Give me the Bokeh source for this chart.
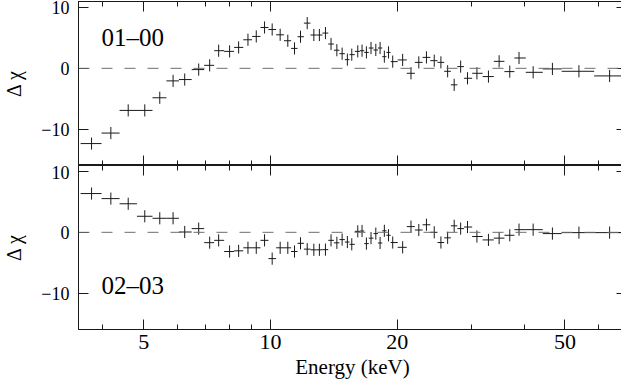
import numpy as np
from bokeh.plotting import figure
from bokeh.models import (Range1d, FixedTicker, LinearAxis, LogAxis, Span, Label,
                          CustomJSTickFormatter, CustomLabelingPolicy, ColumnDataSource)
from bokeh.layouts import column
from bokeh.embed import file_html
from bokeh.resources import INLINE

# ---------------- data ----------------
energy_kev = [3.759, 4.177, 4.593, 5.028, 5.458, 5.870, 6.255, 6.752, 7.170, 7.531,
              7.995, 8.399, 8.839, 9.249, 9.678, 10.09, 10.54, 10.99, 11.40, 11.78,
              12.22, 12.67, 13.06, 13.50, 13.92, 14.37, 14.79, 15.22, 15.59, 16.11,
              16.49, 16.89, 17.32, 17.78, 18.20, 18.63, 19.06, 19.50, 20.59, 21.55,
              22.49, 23.45, 24.47, 25.38, 26.33, 27.29, 28.27, 29.35, 30.90, 32.91,
              34.89, 36.98, 38.90, 42.02, 46.69, 53.97, 63.83]

edges_kev = [3.541, 3.970, 4.381, 4.818, 5.245, 5.659, 6.060, 6.499, 6.958, 7.347,
             7.759, 8.194, 8.616, 9.040, 9.465, 9.886, 10.31, 10.76, 11.19, 11.59,
             12.00, 12.44, 12.87, 13.28, 13.71, 14.14, 14.57, 15.01, 15.40, 15.85,
             16.30, 16.69, 17.11, 17.56, 17.99, 18.42, 18.84, 19.28, 20.04, 21.06,
             22.01, 22.96, 23.95, 24.91, 25.84, 26.80, 27.77, 28.79, 30.11, 31.88,
             33.89, 35.92, 37.93, 40.36, 44.29, 49.12, 58.66, 69.66]

dchi_01_00 = [-12.39, -10.66, -6.93, -6.93, -4.85, -2.07, -1.85, -0.21, 0.49, 2.90,
              2.79, 3.44, 4.70, 5.25, 6.72, 6.39, 5.52, 4.54, 3.28, 5.20,
              7.44, 5.48, 5.48, 5.80, 4.00, 2.98, 2.41, 1.43, 2.25, 2.79,
              2.90, 2.62, 3.34, 3.02, 3.34, 1.92, 2.62, 1.10, 1.38, -0.82,
              0.98, 1.80, 1.26, 0.98, -0.49, -2.72, 0.28, -1.64, -0.82, -1.36,
              1.15, -0.54, 1.70, -0.66, -0.10, -0.49, -1.25]

dchi_02_03 = [6.38, 5.55, 4.70, 2.64, 2.31, 2.31, 0.05, 0.61, -1.70, -1.32,
              -3.16, -3.05, -2.55, -2.55, -1.32, -4.33, -2.55, -2.55, -3.16, -1.81,
              -2.77, -2.88, -2.88, -2.85, -1.32, -1.73, -1.20, -1.60, -1.98, 0.16,
              0.21, -1.86, -0.96, -0.21, -1.76, 0.25, -0.49, -1.68, -2.47, 0.94,
              0.38, 1.24, 0.00, -1.68, -0.91, 1.07, 0.61, 0.87, -0.69, -1.25,
              -0.96, -0.49, 0.44, 0.44, -0.21, -0.05, -0.05]

sigma = 1.0  # a delta-chi residual has unit error by definition

x_major = [5, 10, 20, 50]
x_minor = [4, 6, 7, 8, 9, 30, 40, 60]
y_major = [-10, 0, 10]
panel_names = ["01\u201300", "02\u201303"]
panel_label_pos = [(3.97, 5.1), (3.97, -8.8)]

FONT = "Liberation Serif"
INK = "#1a1a1a"

xr = Range1d(3.5, 70)
num_fmt = CustomJSTickFormatter(code="return tick < 0 ? '\u2212' + Math.abs(tick) : String(tick)")


def hide_labels(ax):
    ax.major_label_policy = CustomLabelingPolicy(code="return []")
    ax.major_label_text_font_size = "0px"
    ax.major_label_standoff = 0


def style_x(ax, labels):
    ax.ticker = FixedTicker(ticks=x_major, minor_ticks=x_minor)
    ax.major_tick_in = 10
    ax.major_tick_out = 0
    ax.minor_tick_in = 5
    ax.minor_tick_out = 0
    ax.axis_line_color = INK
    ax.major_tick_line_color = INK
    ax.minor_tick_line_color = INK
    ax.formatter = num_fmt
    if labels:
        ax.major_label_text_font = FONT
        ax.major_label_text_font_size = "22px"
        ax.major_label_text_color = "black"
        ax.major_label_standoff = 5
    else:
        hide_labels(ax)


def style_y(ax, labels):
    ax.ticker = FixedTicker(ticks=y_major, minor_ticks=[])
    ax.major_tick_in = 10
    ax.major_tick_out = 0
    ax.minor_tick_line_color = None
    ax.axis_line_color = INK
    ax.major_tick_line_color = INK
    ax.formatter = num_fmt
    if labels:
        ax.major_label_text_font = FONT
        ax.major_label_text_font_size = "18px"
        ax.major_label_text_color = "black"
        ax.major_label_standoff = 9
        ax.axis_label = "\u0394 \u03c7"
        ax.axis_label_text_font = FONT
        ax.axis_label_text_font_size = "20px"
        ax.axis_label_text_font_style = "normal"
        ax.axis_label_text_color = "black"
        ax.axis_label_standoff = 13
    else:
        hide_labels(ax)


def make_panel(vals, name, pos, bottom):
    p = figure(frame_width=548, frame_height=164, x_axis_type="log", x_range=xr,
               y_range=Range1d(-16, 11), output_backend="svg", toolbar_location=None,
               min_border_left=72, min_border_right=1,
               min_border_top=0 if bottom else 1, min_border_bottom=0)
    p.grid.visible = False
    p.outline_line_color = INK
    p.background_fill_color = "white"
    p.border_fill_color = "white"

    style_x(p.below[0], bottom)
    if bottom:
        ax = p.below[0]
        ax.axis_label = "Energy (keV)"
        ax.axis_label_text_font = FONT
        ax.axis_label_text_font_size = "21px"
        ax.axis_label_text_font_style = "normal"
        ax.axis_label_text_color = "black"
        ax.axis_label_standoff = 3
    top_ax = LogAxis()
    style_x(top_ax, False)
    p.add_layout(top_ax, "above")

    style_y(p.left[0], True)
    right_ax = LinearAxis()
    style_y(right_ax, False)
    p.add_layout(right_ax, "right")

    p.add_layout(Span(location=0, dimension="width", line_color="#6e6e6e",
                      line_width=1, line_dash="11 12"))

    v = np.array(vals)
    src = ColumnDataSource(dict(e=energy_kev, lo=edges_kev[:-1], hi=edges_kev[1:],
                                v=v, vlo=v - sigma, vhi=v + sigma))
    p.segment(x0="lo", y0="v", x1="hi", y1="v", source=src, line_color=INK, line_width=1)
    p.segment(x0="e", y0="vlo", x1="e", y1="vhi", source=src, line_color=INK, line_width=1)

    p.add_layout(Label(x=pos[0], y=pos[1], text=name, text_font=FONT,
                       text_font_size="25px", text_baseline="middle",
                       text_color="black"))
    return p


p1 = make_panel(dchi_01_00, panel_names[0], panel_label_pos[0], False)
p2 = make_panel(dchi_02_03, panel_names[1], panel_label_pos[1], True)

layout = column(p1, p2, spacing=0)
open("out.html", "w").write(file_html(layout, INLINE))
